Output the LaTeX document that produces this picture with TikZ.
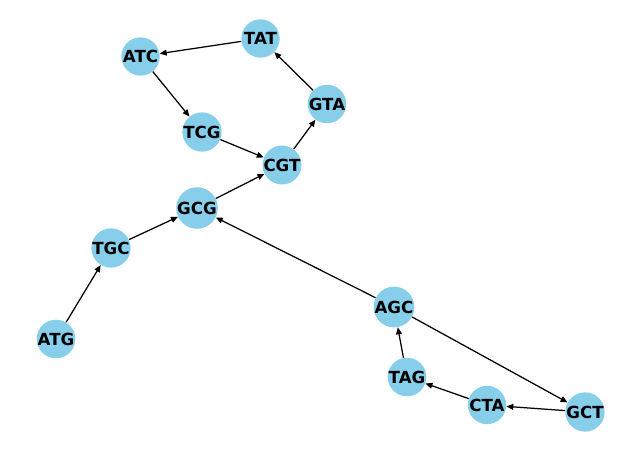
\documentclass[tikz,border=0pt]{standalone}
\usepackage{fontspec}
\setmainfont{DejaVu Sans}
\usetikzlibrary{arrows.meta}
\definecolor{skyblue}{HTML}{87CEEB}
\tikzset{
  vtx/.style={circle, fill=skyblue, minimum size=27.6pt, inner sep=0pt, font=\bfseries\fontsize{12}{14}\selectfont},
  arr/.style={-{Triangle[length=5pt,width=4.2pt]}, line width=0.9pt, black}
}
\begin{document}
\begin{tikzpicture}[x=0.72pt, y=-0.72pt]
\useasboundingbox (0,0) rectangle (640,451);
\node[vtx] (TAT) at (260.5,38.5) {TAT};
\node[vtx] (ATC) at (140.5,56.5) {ATC};
\node[vtx] (GTA) at (327,104) {GTA};
\node[vtx] (TCG) at (202,132) {TCG};
\node[vtx] (CGT) at (282,165) {CGT};
\node[vtx] (GCG) at (197,208) {GCG};
\node[vtx] (TGC) at (111,248) {TGC};
\node[vtx] (ATG) at (56,339) {ATG};
\node[vtx] (AGC) at (394,307) {AGC};
\node[vtx] (TAG) at (407,377) {TAG};
\node[vtx] (CTA) at (487,405) {CTA};
\node[vtx] (GCT) at (585,412) {GCT};
\draw[arr] (TAT) -- (ATC);
\draw[arr] (ATC) -- (TCG);
\draw[arr] (TCG) -- (CGT);
\draw[arr] (CGT) -- (GTA);
\draw[arr] (GTA) -- (TAT);
\draw[arr] (GCG) -- (CGT);
\draw[arr] (TGC) -- (GCG);
\draw[arr] (ATG) -- (TGC);
\draw[arr] (AGC) -- (GCG);
\draw[arr] (AGC) -- (GCT);
\draw[arr] (TAG) -- (AGC);
\draw[arr] (CTA) -- (TAG);
\draw[arr] (GCT) -- (CTA);
\end{tikzpicture}
\end{document}
